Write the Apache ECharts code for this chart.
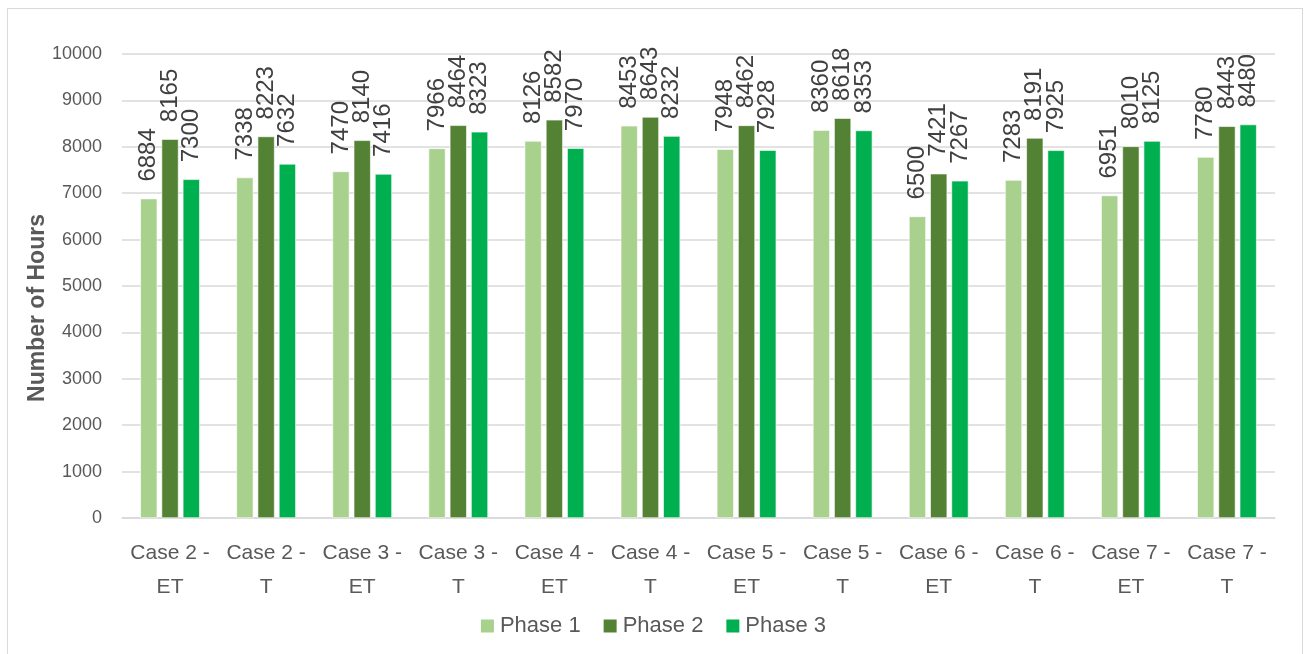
<!DOCTYPE html>
<html>
<head>
<meta charset="utf-8">
<script src="https://cdn.jsdelivr.net/npm/echarts@6/dist/echarts.min.js"></script>
<style>
  html, body { margin: 0; padding: 0; background: #fff; }
  #frame { position: absolute; left: 7px; top: 8px; width: 1294px; height: 660px; border: 1px solid #d9d9d9; }
  #chart { position: absolute; left: 0; top: 0; width: 1305px; height: 654px; }
</style>
</head>
<body>
<div id="frame"></div>
<div id="chart"></div>
<script>
const categories = [
  "Case 2 -\nET", "Case 2 -\nT", "Case 3 -\nET", "Case 3 -\nT",
  "Case 4 -\nET", "Case 4 -\nT", "Case 5 -\nET", "Case 5 -\nT",
  "Case 6 -\nET", "Case 6 -\nT", "Case 7 -\nET", "Case 7 -\nT"
];
const phase1 = [6884, 7338, 7470, 7966, 8126, 8453, 7948, 8360, 6500, 7283, 6951, 7780];
const phase2 = [8165, 8223, 8140, 8464, 8582, 8643, 8462, 8618, 7421, 8191, 8010, 8443];
const phase3 = [7300, 7632, 7416, 8323, 7970, 8232, 7928, 8353, 7267, 7925, 8125, 8480];
const seriesNames = ["Phase 1", "Phase 2", "Phase 3"];
const colors = ["#a9d18e", "#548235", "#00b050"];
const yTitle = "Number of Hours";

const font = "Liberation Sans, Arial, sans-serif";

const labelStyle = {
  show: true,
  position: "top",
  rotate: 90,
  align: "left",
  verticalAlign: "middle",
  distance: 17,
  color: "#404040",
  fontSize: 24,
  fontFamily: font
};

const makeSeries = (name, data, color) => ({
  name: name,
  type: "bar",
  data: data,
  barWidth: 17,
  barGap: "25%",
  itemStyle: { color: color, borderColor: "#ffffff", borderWidth: 0.6 },
  label: labelStyle
});

const chart = echarts.init(document.getElementById("chart"));
chart.setOption({
  animation: false,
  textStyle: { fontFamily: font },
  grid: { left: 122, right: 30, top: 54, bottom: 136 },
  legend: {
    bottom: 12,
    left: "center",
    itemWidth: 15,
    itemHeight: 15,
    itemGap: 21,
    icon: "rect",
    textStyle: { fontSize: 22, color: "#595959", fontFamily: font },
    data: seriesNames
  },
  // axis title sits a little below the plot's middle, as in the original
  graphic: [{
    type: "text",
    x: 38,
    y: 308,
    rotation: Math.PI / 2,
    style: {
      text: yTitle,
      fill: "#595959",
      font: "bold 23px " + font,
      align: "center",
      verticalAlign: "middle"
    }
  }],
  xAxis: {
    type: "category",
    data: categories,
    axisLine: { lineStyle: { color: "#d9d9d9", width: 1.5 } },
    axisTick: { show: false },
    axisLabel: {
      color: "#595959",
      fontSize: 21,
      lineHeight: 34,
      margin: 18,
      interval: 0,
      fontFamily: font
    }
  },
  yAxis: {
    type: "value",
    min: 0,
    max: 10000,
    interval: 1000,
    axisLine: { show: false },
    axisTick: { show: false },
    axisLabel: {
      color: "#595959",
      fontSize: 18,
      margin: 20,
      fontFamily: font,
      formatter: (v) => String(v)
    },
    splitLine: { lineStyle: { color: "#d9d9d9", width: 1.5 } }
  },
  series: [
    makeSeries(seriesNames[0], phase1, colors[0]),
    makeSeries(seriesNames[1], phase2, colors[1]),
    makeSeries(seriesNames[2], phase3, colors[2])
  ]
});
</script>
</body>
</html>
